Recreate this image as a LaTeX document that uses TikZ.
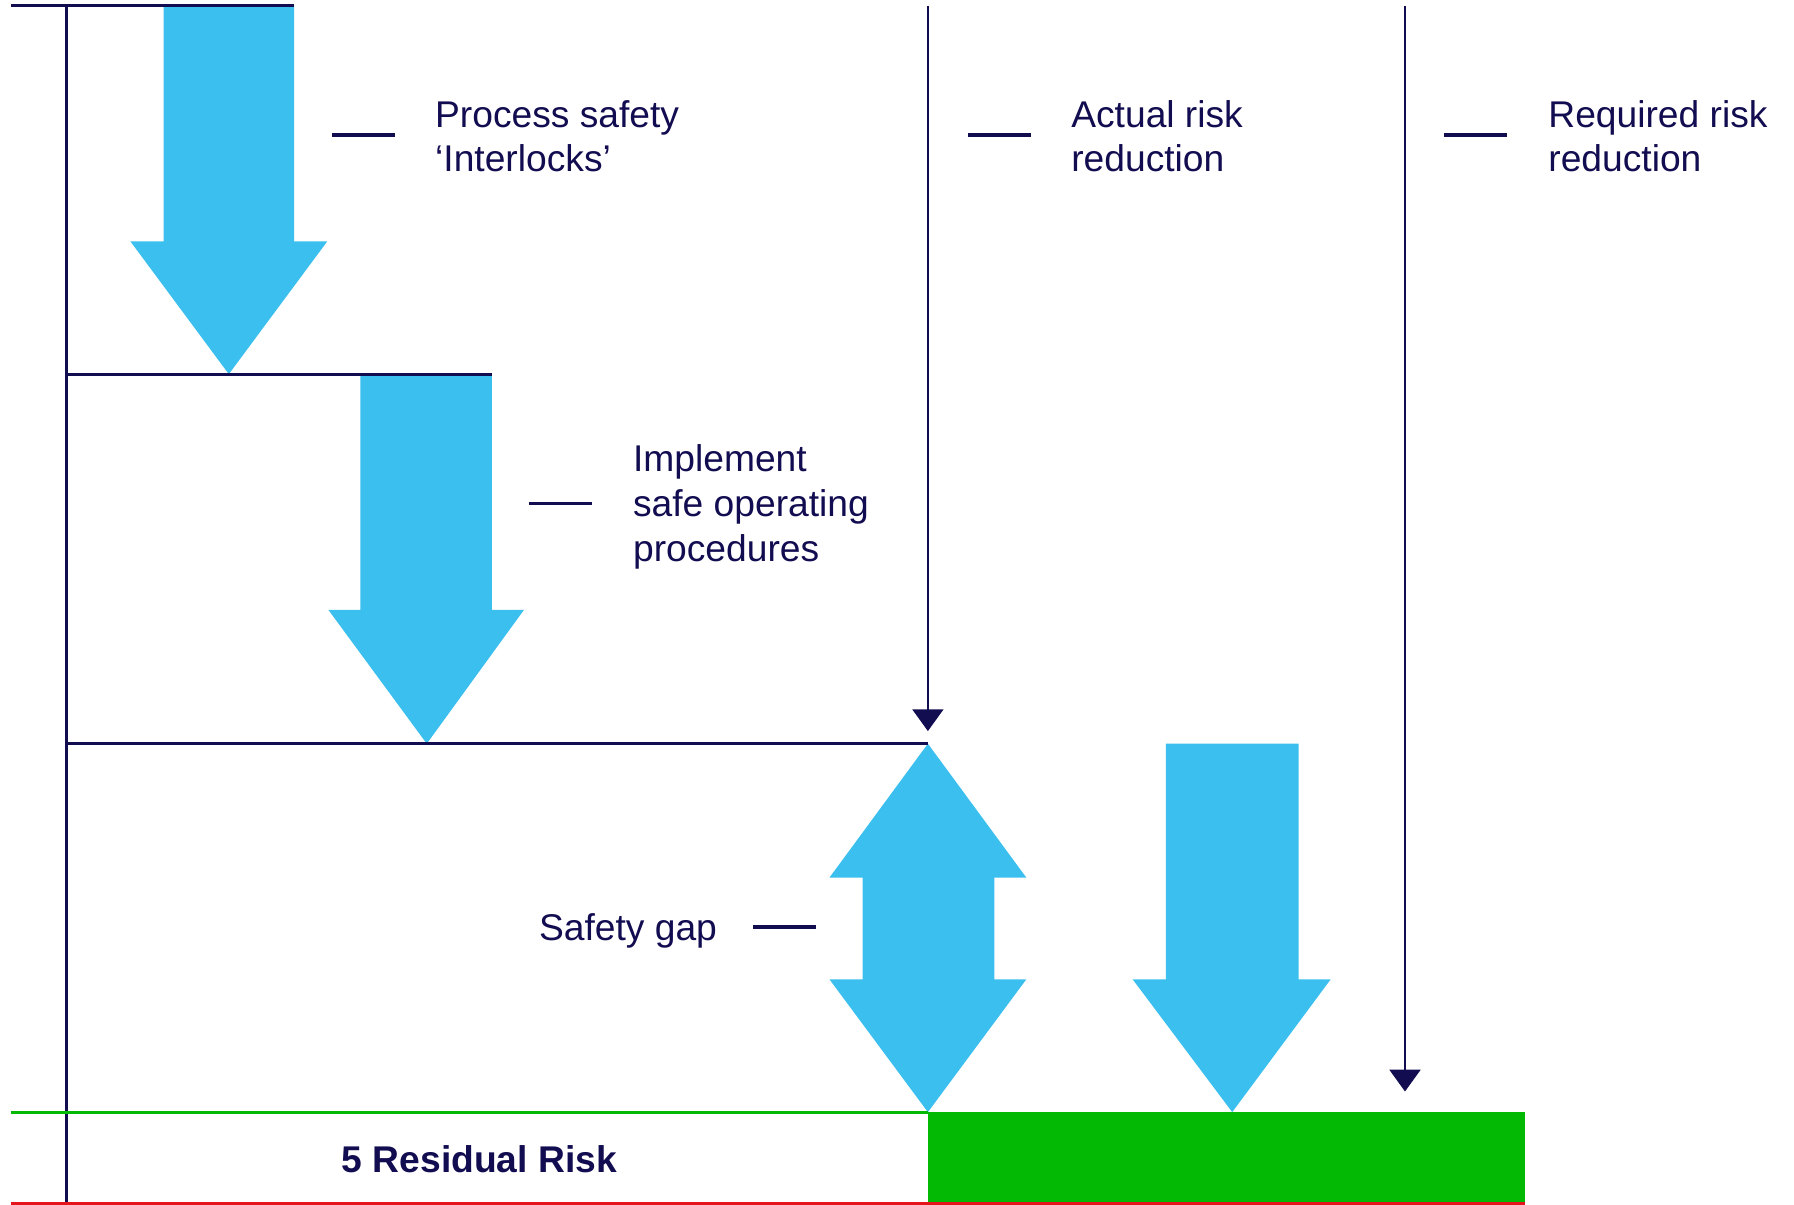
\documentclass[tikz,border=0pt]{standalone}
\usepackage{fontspec}
\setmainfont{Liberation Sans}
\usetikzlibrary{arrows.meta}
\definecolor{navy}{RGB}{18,12,80}
\definecolor{skyb}{RGB}{59,191,238}
\definecolor{grn}{RGB}{4,185,4}
\definecolor{rd}{RGB}{230,20,27}
\begin{document}
\begin{tikzpicture}[x=0.5721pt,y=-0.5721pt,
  lbl/.style={anchor=west,align=left,inner sep=0pt,text=navy,font=\fontsize{18.6}{22.4}\selectfont},
  rule/.style={navy,line width=1.6pt},
  leader/.style={navy,line width=1.8pt},
  bigarrow/.style={fill=skyb,draw=none},
  thinarrow/.style={navy,line width=1.3pt,-{Triangle[length=10.9pt,width=15.4pt]}}]
\useasboundingbox (0,0) rectangle (1568,1053);

% ---- coordinates of the frame ----
\coordinate (topL) at (10,5);
\coordinate (topR) at (257,5);
\coordinate (vTop) at (58,5);
\coordinate (vBot) at (58,1052);
\coordinate (h1L) at (58,327);
\coordinate (h1R) at (430,327);
\coordinate (h2L) at (58,650);
\coordinate (h2R) at (811,650);
\coordinate (gL) at (10,972);
\coordinate (gR) at (811,972);
\coordinate (rL) at (10,1052);
\coordinate (rR) at (1333,1052);
\coordinate (a1s) at (811,5);
\coordinate (a1e) at (811,639);
\coordinate (a2s) at (1228,5);
\coordinate (a2e) at (1228,954);

% ---- residual risk box ----
\fill[grn] (811,972) rectangle (1333,1052);

% ---- big blue arrows ----
\fill[bigarrow] (143,5) -- (257,5) -- (257,211) -- (286,211) -- (200,327) -- (114,211) -- (143,211) -- cycle;
\fill[bigarrow] (315,327) -- (430,327) -- (430,533) -- (458,533) -- (373,650) -- (287,533) -- (315,533) -- cycle;
\fill[bigarrow] (811,650) -- (897,767) -- (869,767) -- (869,856) -- (897,856) -- (811,972) -- (725,856) -- (754,856) -- (754,767) -- (725,767) -- cycle;
\fill[bigarrow] (1019,650) -- (1135,650) -- (1135,856) -- (1163,856) -- (1077,972) -- (990,856) -- (1019,856) -- cycle;

% ---- frame lines ----
\draw[rule] (topL) -- (topR);
\draw[rule] (vTop) -- (vBot);
\draw[rule] (h1L) -- (h1R);
\draw[rule] (h2L) -- (h2R);
\draw[grn,line width=1.5pt] (gL) -- (gR);
\draw[rd,line width=1.5pt] (rL) -- (rR);

% ---- thin arrows ----
\draw[thinarrow] (a1s) -- (a1e);
\draw[thinarrow] (a2s) -- (a2e);

% ---- labels ----
\node[lbl] (t1) at (380,119) {Process safety\\‘Interlocks’};
\coordinate (d1a) at (290,118); \coordinate (d1b) at (345,118);
\draw[leader] (d1a) -- (d1b);

\node[lbl] (t2) at (553,443) {Implement\\safe operating\\procedures};
\coordinate (d2a) at (462,440); \coordinate (d2b) at (517,440);
\draw[leader] (d2a) -- (d2b);

\node[lbl,anchor=east] (t3) at (627,813.5) {Safety gap};
\coordinate (d3a) at (658,810); \coordinate (d3b) at (713,810);
\draw[leader] (d3a) -- (d3b);

\node[lbl] (t4) at (936,119) {Actual risk\\reduction};
\coordinate (d4a) at (846,118); \coordinate (d4b) at (901,118);
\draw[leader] (d4a) -- (d4b);

\node[lbl] (t5) at (1353,119) {Required risk\\reduction};
\coordinate (d5a) at (1262,118); \coordinate (d5b) at (1317,118);
\draw[leader] (d5a) -- (d5b);

\node[lbl,anchor=center,font=\fontsize{18.6}{22.4}\selectfont\bfseries] (res) at (419,1013) {5 Residual Risk};
\end{tikzpicture}
\end{document}
